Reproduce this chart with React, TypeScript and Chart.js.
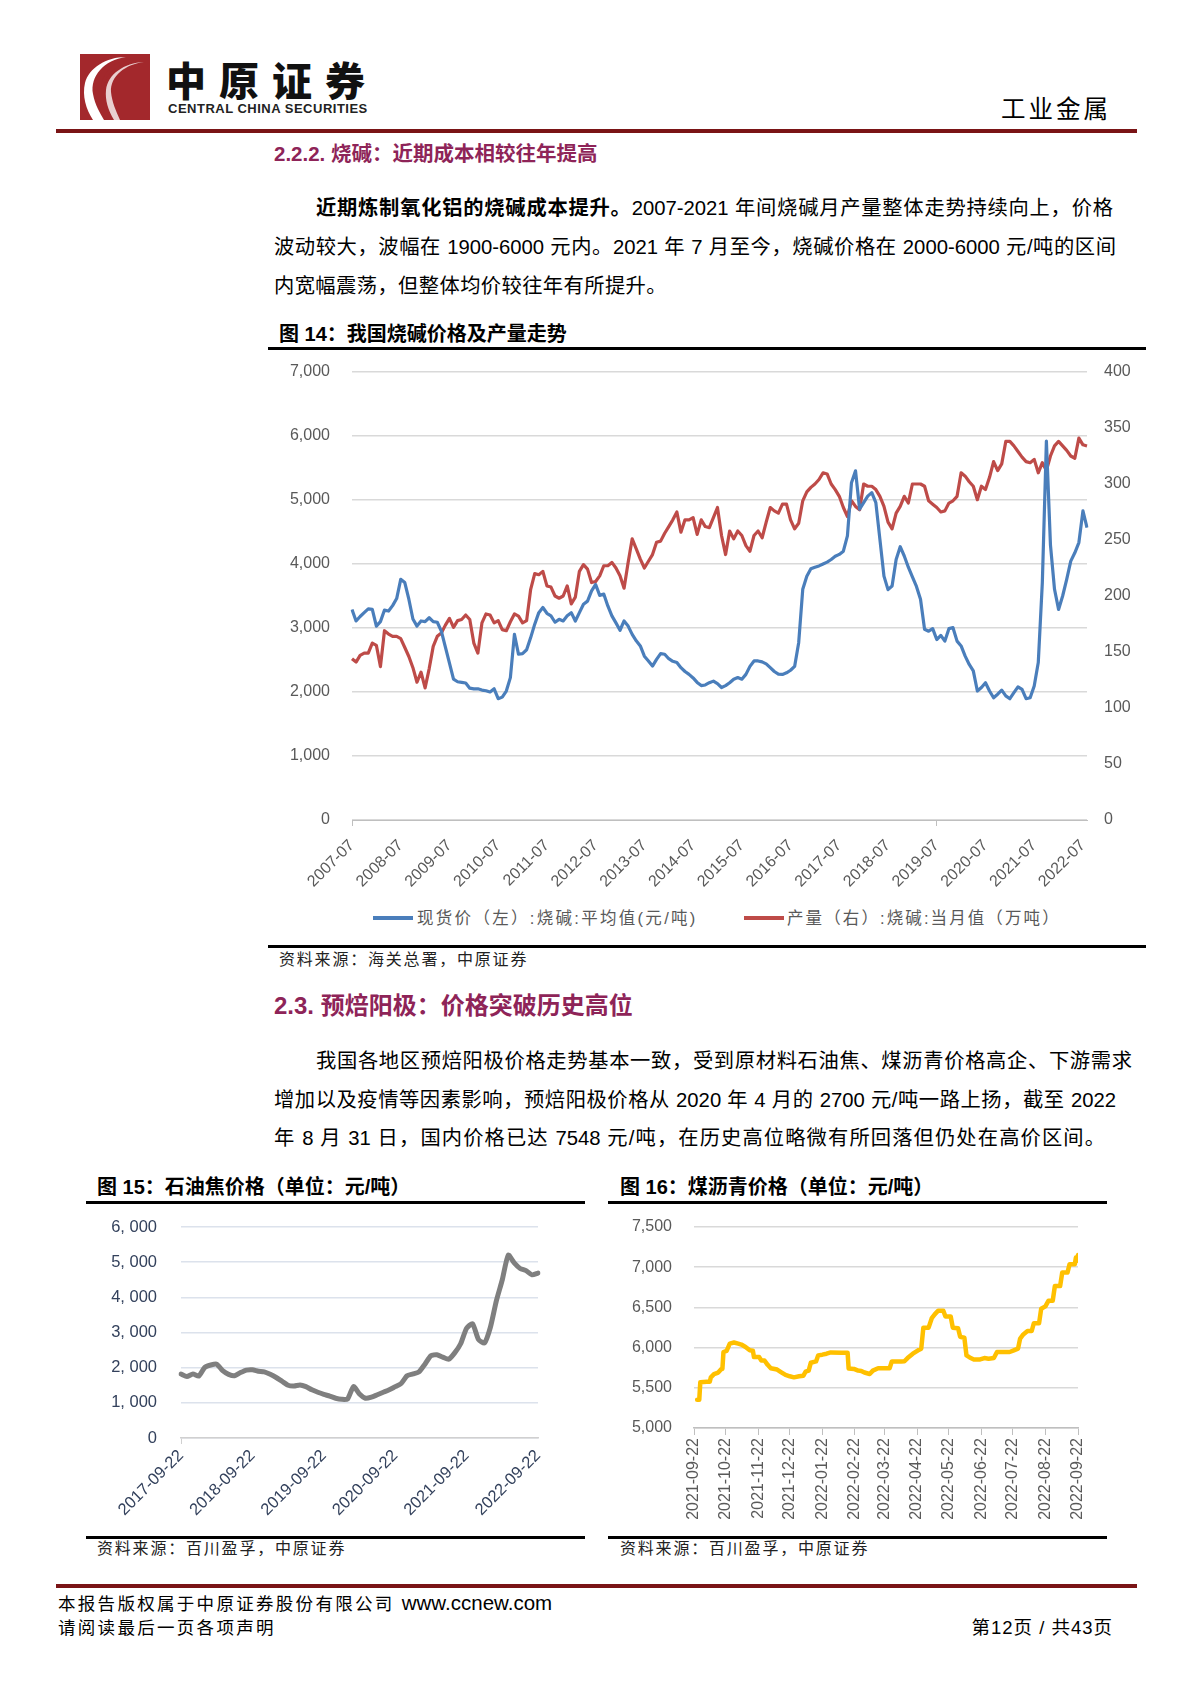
import React, { useEffect, useRef } from 'react';
import { Chart, registerables } from 'chart.js';

Chart.register(...registerables);

const FONT = '"Liberation Sans", "Noto Sans CJK SC", sans-serif';
const CLEAR = 'rgba(0,0,0,0)';

// ---------------- Figure 14: caustic soda price & output (monthly from 2007-07) ----------------
const sodaStart = '2007-07';
const sodaPrice: number[] = [
  3290, 3110, 3180, 3240, 3300, 3290, 3030, 3100, 3280, 3265,
  3350, 3460, 3760, 3710, 3450, 3140, 3030, 3110, 3100, 3160,
  3100, 3090, 2950, 2700, 2450, 2200, 2160, 2150, 2140, 2060,
  2050, 2050, 2030, 2020, 2000, 2050, 1895, 1920, 2015, 2225,
  2900, 2590, 2600, 2660, 2850, 3060, 3240, 3320, 3230, 3190,
  3090, 3135, 3110, 3190, 3240, 3110, 3240, 3370, 3420, 3580,
  3680, 3510, 3530, 3345, 3190, 3080, 2965, 3110, 3030, 2900,
  2800, 2720, 2560, 2485, 2405, 2510, 2600, 2590, 2520, 2480,
  2460, 2380, 2320, 2275, 2220, 2150, 2100, 2110, 2145, 2170,
  2130, 2070, 2100, 2145, 2200, 2225, 2200, 2275, 2400, 2485,
  2485, 2470, 2440, 2380, 2320, 2280, 2275, 2300, 2340, 2400,
  2770, 3605, 3810, 3925, 3950, 3970, 4000, 4030, 4070, 4120,
  4150, 4200, 4440, 5270, 5455, 4855, 4960, 5060, 5115, 4960,
  4385, 3810, 3600, 3655, 4070, 4270, 4125, 3950, 3800, 3650,
  3450, 2980, 2950, 2990, 2820, 2885, 2795, 2990, 3005, 2795,
  2720, 2560, 2430, 2330, 2015, 2070, 2145, 2015, 1910, 1965,
  2030, 1940, 1895, 1990, 2080, 2040, 1895, 1910, 2095, 2460,
  3710, 5920, 4300, 3605, 3290, 3500, 3760, 4045, 4175, 4335,
  4830, 4570,
];
const sodaOutput: number[] = [
  144, 141, 147, 149, 149, 158, 156, 137, 169, 166,
  164, 164, 162, 154, 146, 136, 123, 132, 118, 135,
  155, 164, 167, 174, 180, 172, 178, 179, 183, 179,
  158, 149, 176, 184, 183, 176, 178, 170, 169, 177,
  184, 182, 176, 178, 206, 220, 219, 222, 209, 208,
  200, 198, 200, 209, 193, 199, 222, 228, 224, 212,
  213, 218, 227, 227, 230, 225, 218, 207, 230, 251,
  242, 233, 225, 231, 237, 248, 249, 256, 262, 268,
  275, 257, 268, 268, 270, 255, 268, 262, 261, 270,
  279, 254, 237, 258, 251, 258, 254, 245, 240, 254,
  258, 252, 266, 279, 276, 274, 282, 282, 268, 260,
  265, 285, 293, 297, 300, 304, 310, 309, 300, 295,
  289, 279, 271, 285, 280, 277, 300, 298, 298, 295,
  289, 280, 266, 260, 274, 280, 289, 283, 300, 300,
  300, 298, 285, 282, 279, 275, 276, 283, 285, 289,
  310, 307, 302, 298, 286, 298, 295, 306, 320, 312,
  318, 338, 338, 334, 329, 324, 320, 319, 322, 310,
  319, 312, 325, 334, 338, 334, 330, 325, 323, 341,
  335, 334,
];
const sodaMonths: string[] = sodaPrice.map((_, i) => {
  const [y0, m0] = sodaStart.split('-').map(Number);
  const m = m0 - 1 + i;
  return `${y0 + Math.floor(m / 12)}-${String((m % 12) + 1).padStart(2, '0')}`;
});
const sodaTickLabels = [
  '2007-07', '2008-07', '2009-07', '2010-07', '2011-07', '2012-07', '2013-07', '2014-07',
  '2015-07', '2016-07', '2017-07', '2018-07', '2019-07', '2020-07', '2021-07', '2022-07',
];
const sodaSeriesNames = ['现货价（左）:烧碱:平均值(元/吨)', '产量（右）:烧碱:当月值（万吨）'];

// ---------------- Figure 15: petroleum coke price (monthly, 22nd) ----------------
const cokeStart = '2017-09-22';
const cokePrice: number[] = [
  1820, 1750, 1820, 1760, 2010, 2075, 2100, 1915, 1810, 1770,
  1860, 1930, 1940, 1900, 1880, 1810, 1720, 1610, 1500, 1480,
  1510, 1460, 1370, 1300, 1240, 1190, 1130, 1100, 1110, 1465,
  1250, 1130, 1160, 1230, 1300, 1370, 1460, 1550, 1770, 1820,
  1880, 2100, 2340, 2365, 2300, 2240, 2420, 2680, 3120, 3250,
  2800, 2700, 3150, 3900, 4500, 5200, 4980, 4820, 4760, 4640,
  4690,
];
const cokeDates: string[] = cokePrice.map((_, i) => {
  const [y0, m0, d0] = cokeStart.split('-').map(Number);
  const m = m0 - 1 + i;
  return `${y0 + Math.floor(m / 12)}-${String((m % 12) + 1).padStart(2, '0')}-${d0}`;
});
const cokeTickLabels = ['2017-09-22', '2018-09-22', '2019-09-22', '2020-09-22', '2021-09-22', '2022-09-22'];

// ---------------- Figure 16: coal tar pitch price (daily observations) ----------------
const pitchDates = [
  '2021-09-25', '2021-09-27', '2021-09-28', '2021-10-04', '2021-10-07', '2021-10-08', '2021-10-11',
  '2021-10-15', '2021-10-18', '2021-10-19', '2021-10-20', '2021-10-23', '2021-10-26', '2021-10-30',
  '2021-11-03', '2021-11-06', '2021-11-10', '2021-11-14', '2021-11-17', '2021-11-18', '2021-11-23',
  '2021-11-25', '2021-11-28', '2021-12-01', '2021-12-04', '2021-12-10', '2021-12-14', '2021-12-18',
  '2021-12-22', '2021-12-26', '2021-12-31', '2022-01-04', '2022-01-06', '2022-01-09', '2022-01-11',
  '2022-01-16', '2022-01-18', '2022-01-22', '2022-01-26', '2022-01-30', '2022-02-09', '2022-02-15',
  '2022-02-16', '2022-02-21', '2022-02-25', '2022-02-28', '2022-03-03', '2022-03-08', '2022-03-11',
  '2022-03-16', '2022-03-27', '2022-03-29', '2022-04-07', '2022-04-10', '2022-04-13', '2022-04-18',
  '2022-04-23', '2022-04-26', '2022-04-28', '2022-05-03', '2022-05-06', '2022-05-09', '2022-05-12',
  '2022-05-17', '2022-05-19', '2022-05-24', '2022-05-26', '2022-05-31', '2022-06-02', '2022-06-06',
  '2022-06-08', '2022-06-11', '2022-06-15', '2022-06-21', '2022-06-25', '2022-06-29', '2022-07-04',
  '2022-07-07', '2022-07-19', '2022-07-23', '2022-07-27', '2022-07-29', '2022-08-01', '2022-08-05',
  '2022-08-09', '2022-08-11', '2022-08-16', '2022-08-18', '2022-08-22', '2022-08-25', '2022-08-29',
  '2022-08-31', '2022-09-05', '2022-09-07', '2022-09-12', '2022-09-14', '2022-09-19', '2022-09-20',
  '2022-09-21', '2022-09-22',
];
const pitchPrice = [
  5350, 5350, 5570, 5575, 5575, 5630, 5670,
  5690, 5735, 5735, 5945, 5960, 6050, 6063,
  6050, 6038, 6008, 5966, 5960, 5882, 5882,
  5840, 5840, 5786, 5744, 5727, 5693, 5660,
  5643, 5630, 5643, 5651, 5700, 5714, 5811,
  5828, 5903, 5912, 5924, 5940, 5937, 5937,
  5740, 5735, 5714, 5710, 5690, 5672, 5714,
  5744, 5744, 5828, 5828, 5830, 5870, 5924,
  5966, 5987, 6248, 6248, 6366, 6416, 6458,
  6458, 6387, 6387, 6248, 6240, 6134, 6122,
  5903, 5878, 5853, 5853, 5870, 5861, 5870,
  5945, 5945, 5966, 5987, 6113, 6164, 6206,
  6206, 6303, 6303, 6483, 6513, 6584, 6584,
  6765, 6765, 6933, 6933, 7038, 7038, 7120,
  7080, 7150,
];
const pitchTickLabels = [
  '2021-09-22', '2021-10-22', '2021-11-22', '2021-12-22', '2022-01-22', '2022-02-22', '2022-03-22',
  '2022-04-22', '2022-05-22', '2022-06-22', '2022-07-22', '2022-08-22', '2022-09-22',
];
const dayOf = (d: string) => {
  const [y, m, dd] = d.split('-').map(Number);
  const [y0, m0, d0] = pitchTickLabels[0].split('-').map(Number);
  return Math.round((Date.UTC(y, m - 1, dd) - Date.UTC(y0, m0 - 1, d0)) / 86400000);
};
const pitchTickDays = pitchTickLabels.map(dayOf);

// ---------------- chart helpers ----------------
function ChartBox(props: { left: number; top: number; width: number; height: number; make: () => any }) {
  const ref = useRef<HTMLCanvasElement>(null);
  useEffect(() => {
    const chart = new Chart(ref.current as HTMLCanvasElement, props.make());
    return () => chart.destroy();
  }, []);
  return (
    <div style={{ position: 'absolute', left: props.left, top: props.top, width: props.width, height: props.height }}>
      <canvas ref={ref} width={props.width} height={props.height} style={{ display: 'block', width: props.width, height: props.height }} />
    </div>
  );
}

// gap between y tick labels and the plot is made with invisible tick marks,
// so that ticks.padding does not push the plot area down.
const yGrid = (color: string, gap: number) => ({ color, lineWidth: 1.4, drawTicks: true, tickLength: gap, tickColor: CLEAR });

const sodaConfig = () => {
  const isTick = (i: number) => sodaTickLabels.includes(sodaMonths[i]);
  const tickFont = { family: FONT, size: 16 };
  return {
    type: 'line',
    data: {
      labels: sodaMonths,
      datasets: [
        { label: sodaSeriesNames[0], data: sodaPrice, yAxisID: 'y', borderColor: '#4A7EBB', borderWidth: 3.2, pointRadius: 0, borderJoinStyle: 'round', tension: 0 },
        { label: sodaSeriesNames[1], data: sodaOutput, yAxisID: 'y1', borderColor: '#BE4B48', borderWidth: 3.2, pointRadius: 0, borderJoinStyle: 'round', tension: 0 },
      ],
    },
    options: {
      animation: false, responsive: false, maintainAspectRatio: false,
      layout: { padding: { top: 20, left: 0, right: 0, bottom: 0 } },
      plugins: { legend: { display: false }, tooltip: { enabled: false } },
      scales: {
        x: {
          type: 'category', offset: false,
          border: { color: '#BFBFBF', width: 1 },
          grid: { drawOnChartArea: false, drawTicks: true, tickLength: 6, color: (c: any) => (isTick(c.index) ? '#BFBFBF' : CLEAR) },
          ticks: { autoSkip: false, minRotation: 45, maxRotation: 45, color: '#595959', font: tickFont, padding: 10, callback: (_v: any, i: number) => (isTick(i) ? sodaMonths[i] : null) },
          afterFit: (s: any) => { s.height = 82; },
        },
        y: {
          position: 'left', min: 0, max: 7000,
          border: { display: false },
          grid: yGrid('#D9D9D9', 22),
          ticks: { stepSize: 1000, color: '#595959', font: tickFont, padding: 0, callback: (v: number) => v.toLocaleString('en-US') },
          afterFit: (s: any) => { s.width = 84; },
        },
        y1: {
          position: 'right', min: 0, max: 400,
          border: { display: false },
          grid: { drawOnChartArea: false, drawTicks: true, tickLength: 17, tickColor: CLEAR, color: CLEAR },
          ticks: { stepSize: 50, color: '#595959', font: tickFont, padding: 0 },
          afterFit: (s: any) => { s.width = 59; },
        },
      },
    },
  };
};

const cokeConfig = () => {
  const isTick = (i: number) => cokeTickLabels.includes(cokeDates[i]);
  const navy = '#33415C';
  const font = { family: FONT, size: 16.5 };
  return {
    type: 'line',
    data: {
      labels: cokeDates,
      datasets: [{ label: '石油焦价格', data: cokePrice, borderColor: '#7F7F7F', borderWidth: 5, pointRadius: 0, borderJoinStyle: 'round', borderCapStyle: 'round', tension: 0.2 }],
    },
    options: {
      animation: false, responsive: false, maintainAspectRatio: false,
      layout: { padding: { top: 22, right: 47, left: 0, bottom: 0 } },
      plugins: { legend: { display: false }, tooltip: { enabled: false } },
      scales: {
        x: {
          type: 'category', offset: false,
          border: { color: '#D0D0D0', width: 1.5 },
          grid: { drawOnChartArea: false, drawTicks: true, tickLength: 6, color: (c: any) => (isTick(c.index) ? '#D0D0D0' : CLEAR) },
          ticks: { autoSkip: false, minRotation: 45, maxRotation: 45, color: navy, font, padding: 2, callback: (_v: any, i: number) => (isTick(i) ? cokeDates[i] : null) },
          afterFit: (s: any) => { s.height = 97; },
        },
        y: {
          min: 0, max: 6000,
          border: { display: false },
          grid: yGrid('#DCE2EC', 24),
          ticks: {
            stepSize: 1000, color: navy, font, padding: 0,
            callback: (v: number) => (v >= 1000 ? `${Math.floor(v / 1000)}, ${String(v % 1000).padStart(3, '0')}` : String(v)),
          },
          afterFit: (s: any) => { s.width = 95; },
        },
      },
    },
  };
};

const pitchConfig = () => {
  const font = { family: FONT, size: 16 };
  return {
    type: 'line',
    data: {
      datasets: [{
        label: '煤沥青价格',
        data: pitchDates.map((d, i) => ({ x: dayOf(d), y: pitchPrice[i] })),
        borderColor: '#FFC000', borderWidth: 4.5, pointRadius: 0, borderJoinStyle: 'round', borderCapStyle: 'round', tension: 0,
      }],
    },
    options: {
      animation: false, responsive: false, maintainAspectRatio: false,
      layout: { padding: { top: 22, right: 29, left: 0, bottom: 0 } },
      plugins: { legend: { display: false }, tooltip: { enabled: false } },
      scales: {
        x: {
          type: 'linear', min: pitchTickDays[0], max: pitchTickDays[pitchTickDays.length - 1],
          border: { color: '#BFBFBF', width: 1.5 },
          grid: { drawOnChartArea: false, drawTicks: true, tickLength: 7, color: '#BFBFBF' },
          afterBuildTicks: (s: any) => { s.ticks = pitchTickDays.map((v) => ({ value: v })); },
          ticks: {
            autoSkip: false, minRotation: 90, maxRotation: 90, color: '#595959', font, padding: 3,
            callback: (v: number) => { const i = pitchTickDays.indexOf(v); return i >= 0 ? pitchTickLabels[i] : null; },
          },
          afterFit: (s: any) => { s.height = 107; },
        },
        y: {
          min: 5000, max: 7500,
          border: { display: false },
          grid: yGrid('#D9D9D9', 22),
          ticks: { stepSize: 500, color: '#595959', font, padding: 0, callback: (v: number) => v.toLocaleString('en-US') },
          afterFit: (s: any) => { s.width = 86; },
        },
      },
    },
  };
};

// ---------------- page text helpers ----------------
type TP = {
  x?: number; right?: number; y: number; size: number; children: React.ReactNode;
  w?: number; bold?: boolean; color?: string; ls?: number; weight?: number;
};
function Txt(p: TP) {
  const lh = Math.round(p.size * 1.4);
  const st: React.CSSProperties = {
    position: 'absolute', top: p.y - lh / 2, height: lh, lineHeight: lh + 'px', fontSize: p.size,
    whiteSpace: 'nowrap', fontWeight: p.weight ?? (p.bold ? 700 : 400), color: p.color ?? '#000',
    letterSpacing: p.ls ?? 0, fontFamily: FONT,
  };
  if (p.right !== undefined) { st.right = 1190 - p.right; st.textAlign = 'right'; } else { st.left = p.x; }
  if (p.w) { st.width = p.w; st.textAlign = 'justify'; (st as any).textAlignLast = 'justify'; }
  return <div style={st}>{p.children}</div>;
}
const Rule = (p: { x: number; y: number; w: number; h: number; c: string }) => (
  <div style={{ position: 'absolute', left: p.x, top: p.y, width: p.w, height: p.h, background: p.c }} />
);

const HEAD = '#8E2458';

export default function App() {
  return (
    <div lang="zh-CN" style={{ position: 'absolute', left: 0, top: 0, width: 1190, height: 1683, background: '#fff', overflow: 'hidden', fontFamily: FONT }}>
      {/* header */}
      <svg style={{ position: 'absolute', left: 80, top: 54 }} width={70} height={66} viewBox="0 0 70 66">
        <rect width="70" height="66" fill="#A3282C" />
        <path d="M46 3 C 24 6, 10 22, 13 40 C 15 51, 20 59, 24 66 L 13 66 C 6 55, 2 42, 5 29 C 9 14, 26 3, 46 3 Z" fill="#ffffff" />
        <path d="M64 8 C 46 10, 30 22, 31 38 C 32 48, 36 57, 40 66 L 34 66 C 28 56, 25 46, 26 36 C 28 20, 44 9, 64 8 Z" fill="#E9CFD0" />
        <path d="M40 10 C 30 14, 22 24, 23 34" stroke="#A3282C" strokeWidth="3" fill="none" />
      </svg>
      <div style={{ position: 'absolute', left: 166, top: 55, fontSize: 40, lineHeight: '48px', fontWeight: 900, letterSpacing: 13, fontFamily: '"Noto Sans CJK SC", sans-serif', color: '#111' }}>中原证券</div>
      <div style={{ position: 'absolute', left: 168, top: 102, fontSize: 13, lineHeight: '14px', fontWeight: 700, letterSpacing: 0.5, fontFamily: '"Liberation Sans", sans-serif', color: '#222' }}>CENTRAL CHINA SECURITIES</div>
      <Txt right={1111} y={110} size={24.5} ls={3}>工业金属</Txt>
      <Rule x={56} y={129} w={1081} h={4} c="#7A1416" />

      {/* section 2.2.2 */}
      <Txt x={274} y={153} size={20.5} bold color={HEAD}>2.2.2. 烧碱：近期成本相较往年提高</Txt>
      <Txt x={316} y={208} size={20.3} w={797}><b>近期炼制氧化铝的烧碱成本提升。</b>2007-2021 年间烧碱月产量整体走势持续向上，价格</Txt>
      <Txt x={274} y={247} size={20.3} w={842}>波动较大，波幅在 1900-6000 元内。2021 年 7 月至今，烧碱价格在 2000-6000 元/吨的区间</Txt>
      <Txt x={274} y={286} size={20.3} ls={0.4}>内宽幅震荡，但整体均价较往年有所提升。</Txt>

      <Txt x={279} y={334} size={20} bold>图 14：我国烧碱价格及产量走势</Txt>
      <Rule x={268} y={347} w={878} h={3} c="#000" />
      <ChartBox left={268} top={352} width={878} height={550} make={sodaConfig} />
      {/* legend */}
      <div style={{ position: 'absolute', left: 373, top: 916, width: 40, height: 4, background: '#4A7EBB' }} />
      <Txt x={417} y={918} size={16.5} ls={2.3} color="#595959">{sodaSeriesNames[0]}</Txt>
      <div style={{ position: 'absolute', left: 744, top: 916, width: 40, height: 4, background: '#BE4B48' }} />
      <Txt x={787} y={918} size={16.5} ls={2.1} color="#595959">{sodaSeriesNames[1]}</Txt>
      <Rule x={268} y={945} w={878} h={3} c="#000" />
      <Txt x={279} y={960} size={16} ls={1.8} color="#222">资料来源：海关总署，中原证券</Txt>

      {/* section 2.3 */}
      <Txt x={274} y={1006} size={24} bold color={HEAD}>2.3. 预焙阳极：价格突破历史高位</Txt>
      <Txt x={316} y={1061} size={20.3} w={816}>我国各地区预焙阳极价格走势基本一致，受到原材料石油焦、煤沥青价格高企、下游需求</Txt>
      <Txt x={274} y={1100} size={20.3} w={842}>增加以及疫情等因素影响，预焙阳极价格从 2020 年 4 月的 2700 元/吨一路上扬，截至 2022</Txt>
      <Txt x={274} y={1138} size={20.3} w={831}>年 8 月 31 日，国内价格已达 7548 元/吨，在历史高位略微有所回落但仍处在高价区间。</Txt>

      {/* figure 15 */}
      <Txt x={97} y={1187} size={20} bold>图 15：石油焦价格（单位：元/吨）</Txt>
      <Rule x={86} y={1201} w={499} h={3} c="#000" />
      <ChartBox left={86} top={1205} width={499} height={330} make={cokeConfig} />
      <Rule x={86} y={1536} w={499} h={3} c="#000" />
      <Txt x={97} y={1549} size={16} ls={1.8} color="#222">资料来源：百川盈孚，中原证券</Txt>

      {/* figure 16 */}
      <Txt x={620} y={1187} size={20} bold>图 16：煤沥青价格（单位：元/吨）</Txt>
      <Rule x={608} y={1201} w={499} h={3} c="#000" />
      <ChartBox left={608} top={1205} width={499} height={330} make={pitchConfig} />
      <Rule x={608} y={1536} w={499} h={3} c="#000" />
      <Txt x={620} y={1549} size={16} ls={1.8} color="#222">资料来源：百川盈孚，中原证券</Txt>

      {/* footer */}
      <Rule x={56} y={1584} w={1081} h={4} c="#7A1416" />
      <Txt x={58} y={1602} size={17.5} ls={2.3}>本报告版权属于中原证券股份有限公司 <span style={{ letterSpacing: 0, fontSize: 20.5 }}>www.ccnew.com</span></Txt>
      <Txt x={58} y={1628} size={17.5} ls={2.3}>请阅读最后一页各项声明</Txt>
      <Txt right={1113} y={1628} size={18.5} ls={1}>第12页 / 共43页</Txt>
    </div>
  );
}
